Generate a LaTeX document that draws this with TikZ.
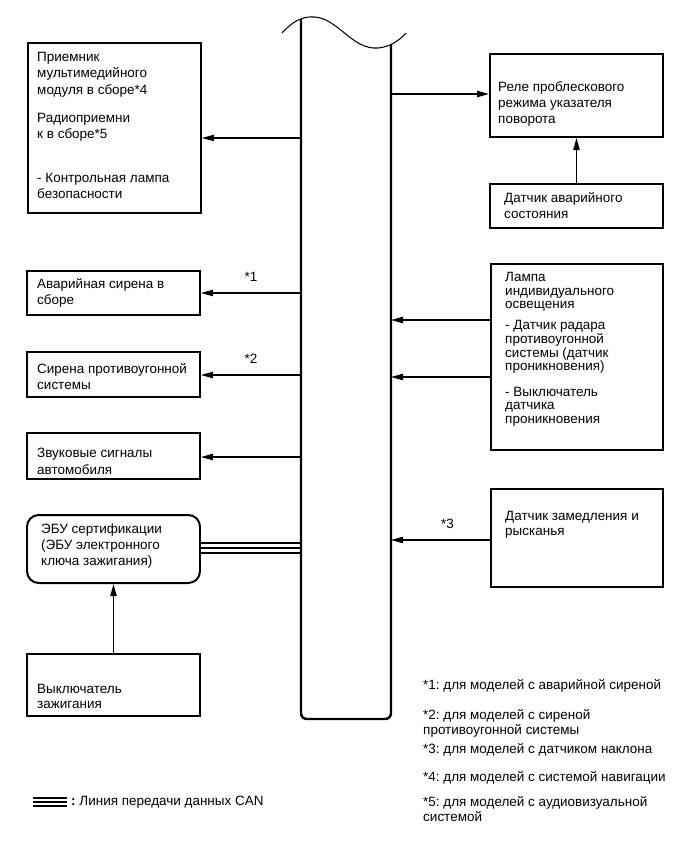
\documentclass[tikz,border=0pt]{standalone}
\usepackage{fontspec}
\setmainfont{Liberation Sans}
\usetikzlibrary{positioning, arrows.meta, fit, calc}

\begin{document}
\frenchspacing
\begin{tikzpicture}[
      x=0.03cm, y=-0.03cm,
      every node/.style={font={\fontsize{11.5}{14}\selectfont}},
      box/.style={draw, line width=1.7pt, inner sep=0pt},
      txt/.style={anchor=north west, align=left, inner sep=0pt},
      note/.style={inner sep=0pt, above=9pt},
      arr/.style={-{Triangle[length=3.6mm, width=1.9mm]}, line width=0.95pt},
      bus/.style={line width=2.1pt, rounded corners=5pt},
      can/.style={line width=0.9pt},
    ]
    \useasboundingbox (0,0) rectangle (690,854);

    % Bus
    \draw[bus] (301,19) -- (301,719) -- (391,719) -- (391,45);
    \draw[line width=0.9pt] (282,33) .. controls (292,22) and (302,16) .. (314,17)
      .. controls (338,18) and (352,50) .. (378,48) .. controls (390,47) and (400,40) .. (406,33);

    % Left column
    \node[box, fit={(28,43) (201,213)}] (rx) {};
    \node[txt] at (37,52) {Приемник\\мультимедийного\\модуля в сборе*4\\[10pt]Радиоприемни\\к в сборе*5\\[23pt]- Контрольная лампа\\безопасности};
    \node[box, fit={(27,271) (200,315)}] (siren) {};
    \node[txt] at (37,278) {Аварийная сирена в\\сборе};
    \node[box, fit={(27,352) (200,397)}] (theft) {};
    \node[txt] at (37,363) {Сирена противоугонной\\системы};
    \node[box, fit={(27,433) (200,479)}] (horn) {};
    \node[txt] at (37,448) {Звуковые сигналы\\автомобиля};
    \node[box, rounded corners=10pt, fit={(27,515) (200,583)}] (ecu) {};
    \node[txt] at (41,523) {ЭБУ сертификации\\(ЭБУ электронного\\ключа зажигания)};
    \node[box, fit={(27,654) (200,716)}] (ign) {};
    \node[txt, font={\fontsize{11.5}{12.5}\selectfont}] at (37,684) {Выключатель\\зажигания};

    % Right column
    \node[box, fit={(490,54) (663,137)}] (relay) {};
    \node[txt] at (498,81) {Реле проблескового\\режима указателя\\поворота};
    \node[box, fit={(490,184) (663,228)}] (crash) {};
    \node[txt] at (504,192) {Датчик аварийного\\состояния};
    \node[box, fit={(491,264) (663,450)}] (lamp) {};
    \node[txt, font={\fontsize{11.5}{11.7}\selectfont}] at (505,272) {Лампа\\индивидуального\\освещения\\[6pt]- Датчик радара\\противоугонной\\системы (датчик\\проникновения)\\[10pt]- Выключатель\\датчика\\проникновения};
    \node[box, fit={(491,489) (663,587)}] (decel) {};
    \node[txt, font={\fontsize{11.5}{12.8}\selectfont}] at (505,511) {Датчик замедления и\\рысканья};

    % Connectors
    \coordinate (rxin) at (301,138);
    \draw[arr] (rxin) -- (rxin -| rx.east);
    \coordinate (sirenin) at (301,293);
    \draw[arr] (sirenin) -- (sirenin -| siren.east) node[midway, note] {*1};
    \coordinate (theftin) at (301,375);
    \draw[arr] (theftin) -- (theftin -| theft.east) node[midway, note] {*2};
    \coordinate (hornin) at (301,457);
    \draw[arr] (hornin) -- (hornin -| horn.east);
    \coordinate (relayin) at (391,94);
    \draw[arr] (relayin) -- (relayin -| relay.west);
    \draw[arr] (crash.north) -- (relay.south);
    \coordinate (lampa) at (391,320);
    \draw[arr] (lampa -| lamp.west) -- (lampa);
    \coordinate (lampb) at (391,377);
    \draw[arr] (lampb -| lamp.west) -- (lampb);
    \coordinate (decelout) at (391,540);
    \draw[arr] (decelout -| decel.west) -- (decelout) node[pos=0.43, note] {*3};
    \draw[arr] (ign.north) -- (ecu.south);
    \foreach \cy in {543,548,553}
      \draw[can] (ecu.east |- 0,\cy) -- (301,\cy);

    % Notes
    \node[txt] (n1) at (423,679) {*1: для моделей с аварийной сиреной};
    \node[txt, font={\fontsize{11.5}{12.8}\selectfont}] (n2) at (423,709) {*2: для моделей с сиреной\\противоугонной системы};
    \node[txt] (n3) at (423,743) {*3: для моделей с датчиком наклона};
    \node[txt] (n4) at (423,771) {*4: для моделей с системой навигации};
    \node[txt, font={\fontsize{11.5}{12.8}\selectfont}] (n5) at (423,796) {*5: для моделей с аудиовизуальной\\системой};

    % Legend
    \foreach \ly in {798,802,806}
      \draw[line width=1.4pt] (33,\ly) -- (67,\ly);
    \node[txt, anchor=west] (canlbl) at (71,802) {\textbf{:} Линия передачи данных CAN};
  \end{tikzpicture}
\end{document}
